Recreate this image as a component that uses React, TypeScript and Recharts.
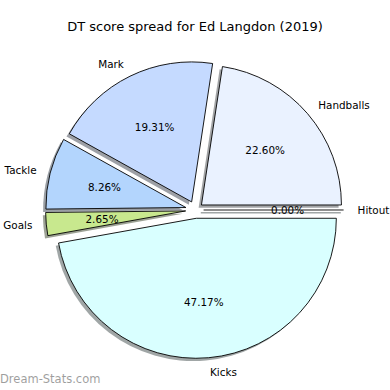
import { Pie, PieChart, Sector } from "recharts";

const CATEGORIES = ["Handballs", "Mark", "Tackle", "Goals", "Kicks", "Hitout"];
const SHARES = [22.6, 19.31, 8.26, 2.65, 47.17, 0];

const COLORS = ["#EAF2FF", "#C5DAFF", "#B3D5FD", "#C8E88E", "#D9FFFF", "#D9FFFF"];
const EXPLODE = [7.7, 9, 10, 10, 8.3, 8];
const SHADOW = 2.8;
const FONT = "'DejaVu Sans', sans-serif";

const data = CATEGORIES.map((name, i) => ({ name, value: SHARES[i] }));
const total = SHARES.reduce((a, b) => a + b, 0);

const RAD = Math.PI / 180;

function offset(midAngle: number, index: number) {
  const e = EXPLODE[index] ?? 0;
  return { dx: e * Math.cos(midAngle * RAD), dy: -e * Math.sin(midAngle * RAD) };
}

function darker(hex: string) {
  const n = parseInt(hex.slice(1), 16);
  const r = Math.round(((n >> 16) & 255) * 0.3);
  const g = Math.round(((n >> 8) & 255) * 0.3);
  const b = Math.round((n & 255) * 0.3);
  return `rgb(${r},${g},${b})`;
}

function wedge(props: any, shadow: boolean) {
  const { cx, cy, outerRadius, startAngle, endAngle, midAngle, index } = props;
  const { dx, dy } = offset(midAngle, index);
  const sx = shadow ? -SHADOW : 0;
  const sy = shadow ? SHADOW : 0;
  const x0 = cx + dx + sx;
  const y0 = cy + dy + sy;
  const fill = shadow ? darker(COLORS[index]) : COLORS[index];
  if (Math.abs(endAngle - startAngle) < 0.01) {
    const x1 = x0 + outerRadius * Math.cos(startAngle * RAD);
    const y1 = y0 - outerRadius * Math.sin(startAngle * RAD);
    return (
      <line
        x1={x0}
        y1={y0}
        x2={x1}
        y2={y1}
        stroke={shadow ? fill : "#000"}
        strokeOpacity={shadow ? 0.5 : 1}
        strokeWidth={shadow ? 1.6 : 0.9}
      />
    );
  }
  return (
    <Sector
      cx={x0}
      cy={y0}
      innerRadius={0}
      outerRadius={outerRadius}
      startAngle={startAngle}
      endAngle={endAngle}
      fill={fill}
      fillOpacity={shadow ? 0.5 : 1}
      stroke={shadow ? "none" : "#000"}
      strokeWidth={shadow ? 0 : 0.9}
    />
  );
}

function renderLabel(props: any) {
  const { cx, cy, outerRadius, midAngle, index, value } = props;
  const { dx, dy } = offset(midAngle, index);
  const c = Math.cos(midAngle * RAD);
  const s = Math.sin(midAngle * RAD);
  const x0 = cx + dx;
  const y0 = cy + dy;
  const lr = outerRadius * 1.1;
  const pr = outerRadius * 0.6;
  return (
    <g key={`lbl-${index}`}>
      <text
        x={x0 + lr * c}
        y={y0 - lr * s}
        textAnchor={c >= 0 ? "start" : "end"}
        dominantBaseline="central"
        fontFamily={FONT}
        fontSize={10.4}
        fill="#000"
      >
        {CATEGORIES[index]}
      </text>
      <text
        x={x0 + pr * c}
        y={y0 - pr * s}
        textAnchor="middle"
        dominantBaseline="central"
        fontFamily={FONT}
        fontSize={10.4}
        fill="#000"
      >
        {((value / total) * 100).toFixed(2)}%
      </text>
    </g>
  );
}

export default function App() {
  return (
    <div style={{ position: "absolute", left: 0, top: 0, width: 390, height: 390, background: "#fff" }}>
      <div
        style={{
          position: "absolute",
          left: 0,
          top: 19,
          width: 390,
          textAlign: "center",
          fontFamily: FONT,
          fontSize: 13,
          color: "#000",
        }}
      >
        DT score spread for Ed Langdon (2019)
      </div>
      <PieChart width={390} height={390} margin={{ top: 0, right: 0, bottom: 0, left: 0 }}>
        <Pie
          data={data}
          dataKey="value"
          nameKey="name"
          cx={195.6}
          cy={210}
          outerRadius={140}
          startAngle={0}
          endAngle={360}
          paddingAngle={0}
          stroke="none"
          isAnimationActive={false}
          shape={(p: any) => wedge(p, true)}
        />
        <Pie
          data={data}
          dataKey="value"
          nameKey="name"
          cx={195.6}
          cy={210}
          outerRadius={140}
          startAngle={0}
          endAngle={360}
          paddingAngle={0}
          stroke="none"
          isAnimationActive={false}
          shape={(p: any) => wedge(p, false)}
          label={renderLabel}
          labelLine={false}
        />
      </PieChart>
      <div
        style={{
          position: "absolute",
          left: 0,
          top: 372,
          fontFamily: FONT,
          fontSize: 11.5,
          color: "#000",
          opacity: 0.38,
        }}
      >
        Dream-Stats.com
      </div>
    </div>
  );
}
